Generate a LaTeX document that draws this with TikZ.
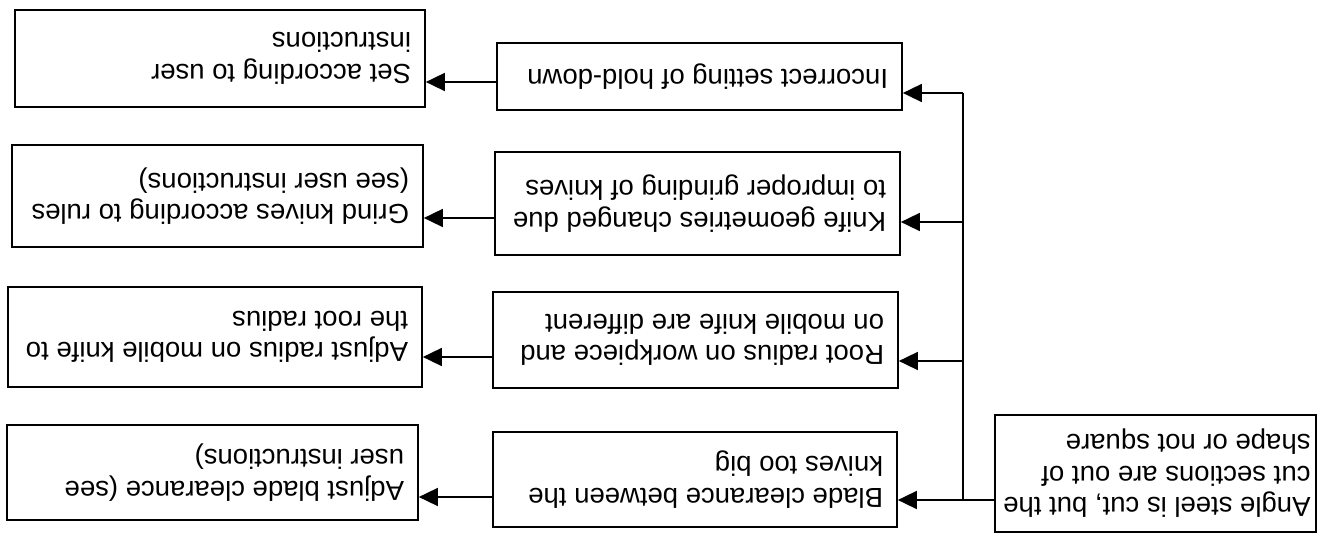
\documentclass[tikz,border=0pt]{standalone}
\usepackage{fontspec}
\usepackage{graphicx}
\setmainfont{Liberation Sans}
\usetikzlibrary{arrows.meta}

% text block set flush left, then turned half a turn
\newcommand\fliptext[2]{\rotatebox{180}{\parbox{#1}{\raggedright #2}}}

\tikzset{
  box/.style={draw, line width=1.7pt, inner xsep=14pt, inner ysep=0pt,
    font=\fontsize{27.5}{31.5}\selectfont},
  link/.style={line width=1.7pt},
  arr/.style={line width=1.7pt, -{Triangle[length=19pt,width=18pt]}}
}

\begin{document}
\begin{tikzpicture}[x=1pt,y=1pt]
\useasboundingbox (0,0) rectangle (1321,535);

% problem
\node[box, inner xsep=5.5pt, minimum width=321pt, minimum height=117pt] (root) at (1155.5,61.5)
  {\fliptext{310pt}{Angle steel is cut, but the\\cut sections are out of\\shape or not square}};

% causes
\node[box, minimum width=405pt, minimum height=67pt] (c1) at (699.5,458.5)
  {\fliptext{377pt}{Incorrect setting of hold-down}};
\node[box, minimum width=405pt, minimum height=103pt] (c2) at (697.5,331.5)
  {\fliptext{377pt}{Knife geometries changed due\\to improper grinding of knives}};
\node[box, minimum width=405pt, minimum height=96pt] (c3) at (695.5,195)
  {\fliptext{377pt}{Root radius on workpiece and\\on mobile knife are different}};
\node[box, minimum width=404pt, minimum height=95pt] (c4) at (695,55.5)
  {\fliptext{376pt}{Blade clearance between the\\knives too big}};

% remedies
\node[box, minimum width=410pt, minimum height=97pt] (s1) at (220,476.5)
  {\fliptext{382pt}{Set according to user\\instructions}};
\node[box, minimum width=411pt, minimum height=102pt] (s2) at (217.5,339)
  {\fliptext{383pt}{Grind knives according to rules\\(see user instructions)}};
\node[box, minimum width=414pt, minimum height=100pt] (s3) at (215,198)
  {\fliptext{386pt}{Adjust radius on mobile knife to\\the root radius}};
\node[box, minimum width=411pt, minimum height=95pt] (s4) at (212.5,62.5)
  {\fliptext{383pt}{Adjust blade clearance (see\\user instructions)}};

% branch points on the trunk
\coordinate (j1) at (963,442);
\coordinate (j2) at (963,313);
\coordinate (j3) at (963,174);
\coordinate (j4) at (963,35);

% row heights of the remedy links
\coordinate (r1) at (0,453);
\coordinate (r2) at (0,317);
\coordinate (r3) at (0,178);
\coordinate (r4) at (0,38);

% trunk from the problem box
\draw[link] (root.west |- j4) -- (j4) -- (j1);
\draw[arr] (j1) -- (c1.east |- j1);
\draw[arr] (j2) -- (c2.east |- j2);
\draw[arr] (j3) -- (c3.east |- j3);
\draw[arr] (j4) -- (c4.east |- j4);

% cause to remedy
\draw[arr] (c1.west |- r1) -- (s1.east |- r1);
\draw[arr] (c2.west |- r2) -- (s2.east |- r2);
\draw[arr] (c3.west |- r3) -- (s3.east |- r3);
\draw[arr] (c4.west |- r4) -- (s4.east |- r4);
\end{tikzpicture}
\end{document}
